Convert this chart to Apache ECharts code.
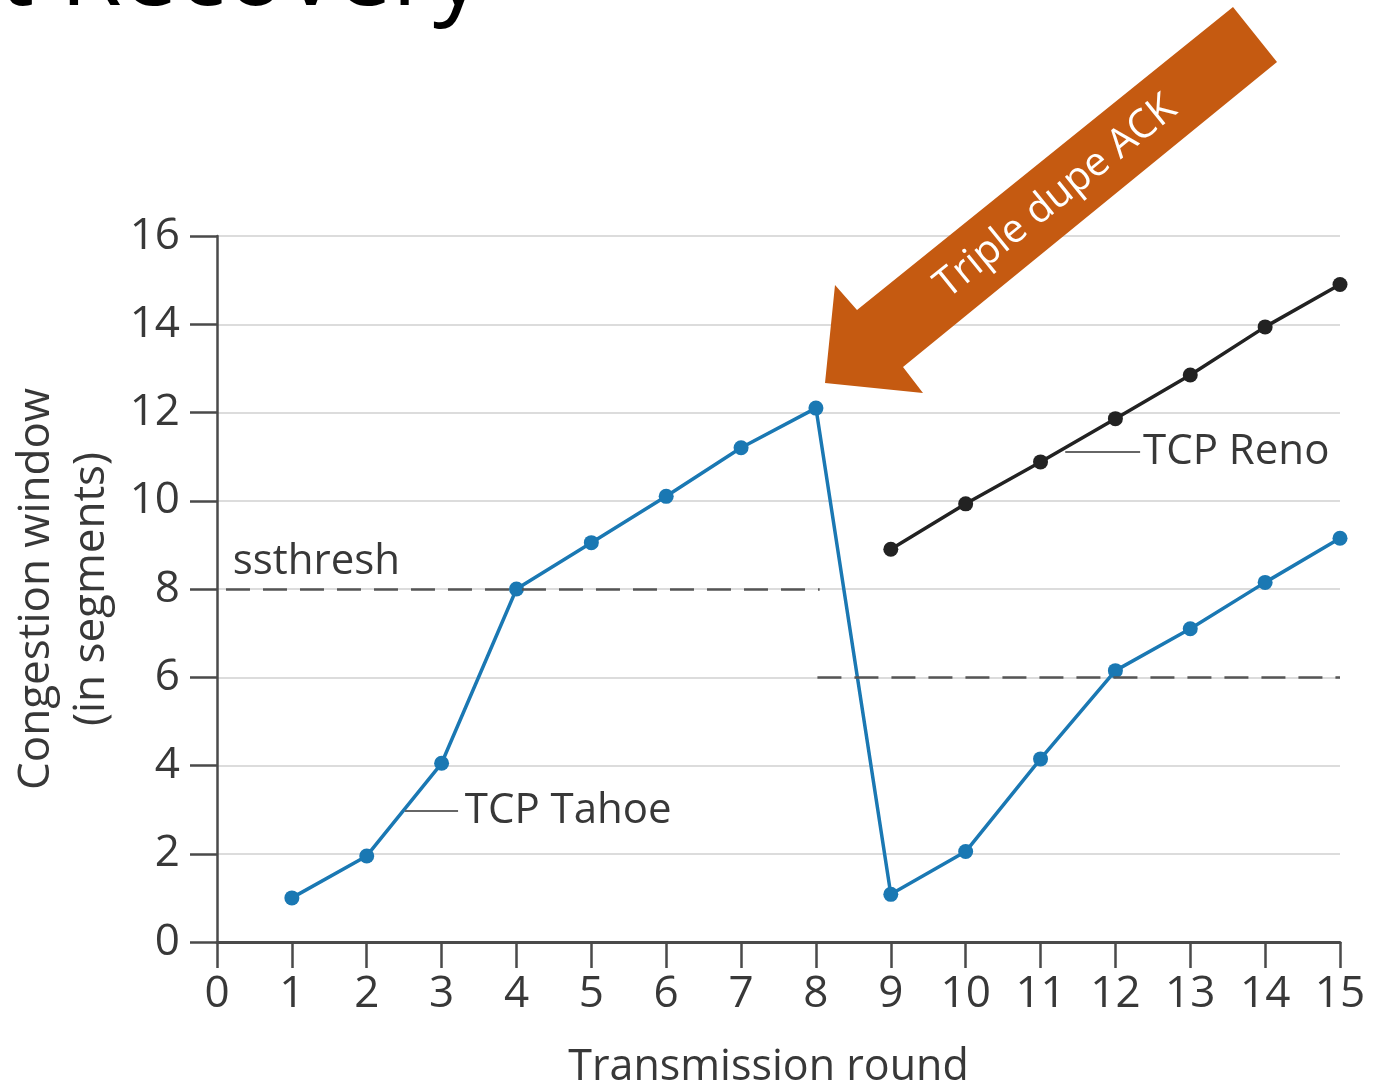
<!DOCTYPE html>
<html>
<head>
<meta charset="utf-8">
<script src="https://cdn.jsdelivr.net/npm/echarts@6/dist/echarts.min.js"></script>
<style>
  html, body { margin: 0; padding: 0; background: #fff; }
  #chart { width: 1386px; height: 1082px; }
</style>
</head>
<body>
<div id="chart"></div>
<script>
// transmission rounds and congestion window
const rounds = [1, 2, 3, 4, 5, 6, 7, 8, 9, 10, 11, 12, 13, 14, 15];
const tahoeCwnd = [1, 1.95, 4.05, 8, 9.05, 10.1, 11.2, 12.1, 1.08, 2.05, 4.15, 6.15, 7.1, 8.15, 9.15];
const renoRounds = [9, 10, 11, 12, 13, 14, 15];
const renoCwnd = [8.9, 9.93, 10.88, 11.86, 12.85, 13.94, 14.9];

// ssthresh dashed segments
const ssthreshBefore = [[0.12, 8], [8.05, 8]];
const ssthreshAfter = [[8.02, 6], [15, 6]];

// axis ranges
const yMin = 0, yMax = 16, yStep = 2;
const xMin = 0, xMax = 15, xStep = 1;

const FONT = '"Open Sans", "Noto Sans", sans-serif';
const TEXT = '#383838';
const BLUE = '#1a78b3';
const ORANGE = '#c55a11';

const chart = echarts.init(document.getElementById('chart'));

const pairs = (xs, ys) => xs.map((x, i) => [x, ys[i]]);

const textLabel = (coord, text, align) => ({
  coord: coord,
  value: text,
  label: { align: align }
});

const option = {
  animation: false,
  backgroundColor: '#fff',
  textStyle: { fontFamily: FONT },
  grid: { left: 217, right: 46, top: 236, bottom: 140, outerBoundsMode: 'none', containLabel: false },
  xAxis: {
    type: 'value',
    min: xMin,
    max: xMax,
    interval: xStep,
    name: 'Transmission round',
    nameLocation: 'middle',
    nameGap: 104,
    nameTextStyle: { fontSize: 43, color: TEXT, fontFamily: FONT, padding: [0, 20, 0, 0] },
    axisLine: { lineStyle: { color: '#4a4a4a', width: 3 } },
    axisTick: { inside: false, length: 26, lineStyle: { color: '#4a4a4a', width: 2.5 } },
    axisLabel: { fontSize: 44, color: TEXT, margin: 30, fontFamily: FONT },
    splitLine: { show: false }
  },
  yAxis: {
    type: 'value',
    min: yMin,
    max: yMax,
    interval: yStep,
    name: 'Congestion window\n(in segments)',
    nameLocation: 'middle',
    nameGap: 97,
    nameRotate: 90,
    nameTextStyle: { fontSize: 44, color: TEXT, lineHeight: 55, fontFamily: FONT },
    axisLine: { show: true, lineStyle: { color: '#4a4a4a', width: 2.5 } },
    axisTick: { show: true, inside: false, length: 27, lineStyle: { color: '#4a4a4a', width: 2.5 } },
    axisLabel: { fontSize: 44, color: TEXT, margin: 37, fontFamily: FONT },
    splitLine: { lineStyle: { color: '#dcdcdc', width: 2 } }
  },
  graphic: [
    // cut-off slide title
    {
      type: 'text',
      x: 483,
      y: 27,
      style: {
        text: 'Fast Recovery',
        font: '100px ' + FONT,
        fill: '#000',
        align: 'right',
        verticalAlign: 'bottom'
      }
    },
    // orange arrow
    {
      type: 'polygon',
      shape: {
        points: [[825, 383], [835, 285], [857, 310], [1233, 7], [1277, 62], [903, 367], [923, 393]]
      },
      style: { fill: ORANGE },
      z: 100
    },
    {
      type: 'text',
      x: 1056,
      y: 197,
      rotation: Math.atan2(303, 375),
      style: {
        text: 'Triple dupe ACK',
        font: '40px ' + FONT,
        fill: '#fff',
        align: 'center',
        verticalAlign: 'middle'
      },
      z: 101
    }
  ],
  series: [
    {
      name: 'TCP Tahoe',
      type: 'line',
      data: pairs(rounds, tahoeCwnd),
      symbol: 'circle',
      symbolSize: 15,
      lineStyle: { color: BLUE, width: 3.5 },
      itemStyle: { color: BLUE },
      z: 3,
      markLine: {
        silent: true,
        symbol: ['none', 'none'],
        label: { show: false },
        lineStyle: { color: '#555', width: 2.5, type: [24, 13] },
        data: [
          [{ coord: ssthreshBefore[0] }, { coord: ssthreshBefore[1] }],
          [{ coord: ssthreshAfter[0] }, { coord: ssthreshAfter[1] }],
          // leader lines to the series names
          [{ coord: [2.51, 2.97], lineStyle: { type: 'solid', color: '#666', width: 2 } }, { coord: [3.22, 2.97] }],
          [{ coord: [11.33, 11.1], lineStyle: { type: 'solid', color: '#666', width: 2 } }, { coord: [12.33, 11.1] }]
        ]
      },
      markPoint: {
        silent: true,
        symbol: 'circle',
        symbolSize: 0,
        label: {
          show: true,
          position: 'inside',
          verticalAlign: 'middle',
          fontSize: 42,
          color: TEXT,
          fontFamily: FONT,
          formatter: p => p.value
        },
        data: [
          textLabel([0.21, 8.6], 'ssthresh', 'left'),
          textLabel([15.04, 5.21], 'ssthresh', 'right'),
          textLabel([3.31, 2.97], 'TCP Tahoe', 'left'),
          textLabel([12.37, 11.1], 'TCP Reno', 'left')
        ]
      }
    },
    {
      name: 'TCP Reno',
      type: 'line',
      data: pairs(renoRounds, renoCwnd),
      symbol: 'circle',
      symbolSize: 15,
      lineStyle: { color: '#222', width: 3.5 },
      itemStyle: { color: '#222' },
      z: 3
    }
  ]
};

chart.setOption(option);
</script>
</body>
</html>
